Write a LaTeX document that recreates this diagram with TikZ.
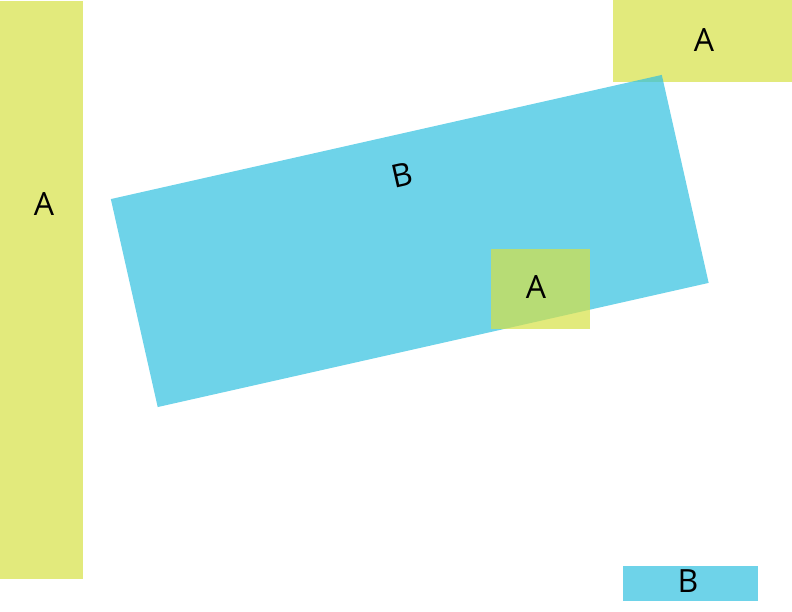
\documentclass[tikz,border=0pt]{standalone}
\usepackage{fontspec}
\setmainfont{Open Sans}
\definecolor{ayel}{RGB}{214,225,68}
\definecolor{bblu}{RGB}{49,192,224}
\tikzset{
  abox/.style={fill=ayel, fill opacity=0.7, draw=none, inner sep=0pt, rectangle},
  bbox/.style={fill=bblu, fill opacity=0.7, draw=none, inner sep=0pt, rectangle},
  lbl/.style={font=\fontsize{32}{36}\selectfont, text=black, inner sep=0pt, text opacity=1}
}
\begin{document}
\begin{tikzpicture}[x=1pt,y=1pt]
\useasboundingbox (0,0) rectangle (792,612);
% left A
\node[abox, minimum width=83pt, minimum height=578pt, anchor=north west] (aleft) at (0,611) {};
\node[lbl] (aleftl) at (44,408) {A};
% top right A
\node[abox, minimum width=179pt, minimum height=82pt, anchor=north west] (atr) at (613,612) {};
\node[lbl] (atrl) at (704,572) {A};
% big rotated B
\node[bbox, rotate=12.7, minimum width=564.8pt, minimum height=213.2pt] (bbig) at (409.75,371) {};
\node[lbl, rotate=12.7] (bbigl) at (402,437) {B};
% small A on B
\node[abox, minimum width=99pt, minimum height=80pt, anchor=north west] (asm) at (491,363) {};
\node[lbl] (asml) at (536,325) {A};
% bottom B
\node[bbox, minimum width=135pt, minimum height=35pt, anchor=north west] (bsm) at (623,46) {};
\node[lbl] (bsml) at (688,31) {B};
\end{tikzpicture}
\end{document}
